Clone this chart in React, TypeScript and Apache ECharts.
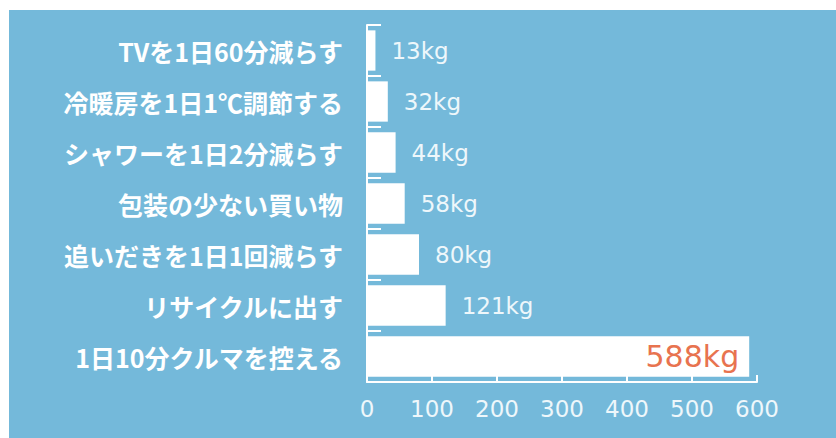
import React, { useEffect, useRef } from "react";
import * as echarts from "echarts";

const categories = [
  "TVを1日60分減らす",
  "冷暖房を1日1℃調節する",
  "シャワーを1日2分減らす",
  "包装の少ない買い物",
  "追いだきを1日1回減らす",
  "リサイクルに出す",
  "1日10分クルマを控える",
];
const values = [13, 32, 44, 58, 80, 121, 588];
const xTicks = [0, 100, 200, 300, 400, 500, 600];

export default function App() {
  const ref = useRef<HTMLDivElement>(null);
  useEffect(() => {
    if (!ref.current) return;
    const chart = echarts.init(ref.current, null, { renderer: "svg" });
    const lastIdx = values.length - 1;
    chart.setOption({
      animation: false,
      backgroundColor: "#ffffff",
      graphic: [
        {
          type: "rect",
          z: -10,
          silent: true,
          shape: { x: 9, y: 10, width: 830, height: 430 },
          style: { fill: "#74b9da" },
        },
      ],
      grid: { left: 367, top: 25, right: 79, bottom: 56, containLabel: false },
      xAxis: {
        type: "value",
        min: xTicks[0],
        max: xTicks[xTicks.length - 1],
        interval: 100,
        axisLine: { show: true, lineStyle: { color: "#ffffff", width: 2 } },
        axisTick: { show: true, inside: true, length: 7, lineStyle: { color: "#ffffff", width: 2 } },
        splitLine: { show: false },
        axisLabel: {
          color: "#eef7fb",
          fontSize: 23,
          fontFamily: "DejaVu Sans",
          margin: 15,
        },
      },
      yAxis: {
        type: "category",
        inverse: true,
        data: categories,
        axisLine: { show: true, lineStyle: { color: "#ffffff", width: 2 } },
        axisTick: { show: true, inside: true, length: 14, lineStyle: { color: "#ffffff", width: 2 } },
        axisLabel: {
          color: "#ffffff",
          fontSize: 25,
          fontWeight: "bold",
          fontFamily: "Noto Sans CJK JP",
          margin: 24,
        },
      },
      series: [
        {
          type: "bar",
          barCategoryGap: "21%",
          data: values.map((v, i) =>
            i === lastIdx
              ? {
                  value: v,
                  label: {
                    show: true,
                    position: "insideRight",
                    distance: 10,
                    color: "#e8734f",
                    fontSize: 30,
                    fontFamily: "DejaVu Sans",
                    formatter: "{c}kg",
                  },
                }
              : v
          ),
          itemStyle: { color: "#ffffff" },
          label: {
            show: true,
            position: "right",
            distance: 16,
            color: "#eef7fb",
            fontSize: 23,
            fontFamily: "DejaVu Sans",
            formatter: "{c}kg",
          },
        },
      ],
    });
    return () => chart.dispose();
  }, []);
  return (
    <div
      ref={ref}
      style={{ position: "fixed", left: 0, top: 0, width: 836, height: 438 }}
    />
  );
}
